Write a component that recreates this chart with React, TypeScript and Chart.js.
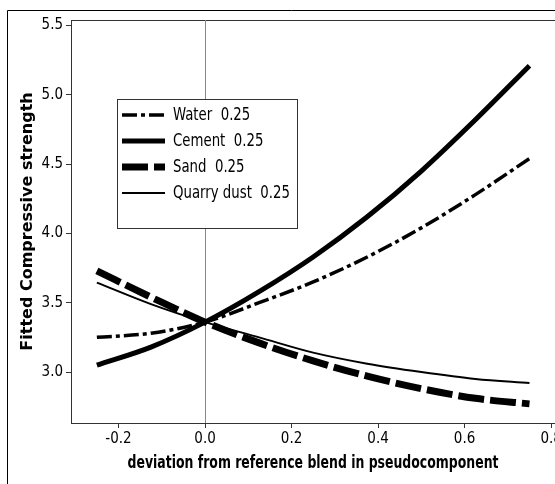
import React, { useEffect, useRef } from "react";
import { Chart, registerables } from "chart.js";

Chart.register(...registerables);

const xValues = [-0.25, -0.125, 0, 0.125, 0.25, 0.375, 0.5, 0.625, 0.75];
const water = [3.25, 3.28, 3.36, 3.5, 3.65, 3.83, 4.04, 4.28, 4.54];
const cement = [3.05, 3.18, 3.36, 3.58, 3.83, 4.12, 4.45, 4.82, 5.21];
const sand = [3.73, 3.54, 3.36, 3.21, 3.08, 2.97, 2.88, 2.81, 2.77];
const quarryDust = [3.645, 3.49, 3.36, 3.25, 3.14, 3.06, 3.0, 2.95, 2.92];
const seriesLabels = ["Water  0.25", "Cement  0.25", "Sand  0.25", "Quarry dust  0.25"];
const xTicks = [-0.2, 0, 0.2, 0.4, 0.6, 0.8];
const yTicks = [3.0, 3.5, 4.0, 4.5, 5.0, 5.5];
const xTitle = "deviation from reference blend in pseudocomponent";
const yTitle = "Fitted Compressive strength";

const NARROW = "'Liberation Sans Narrow', 'DejaVu Sans Condensed', sans-serif";
const WIDE = "'DejaVu Sans', Verdana, sans-serif";

function pts(ys: number[]) {
  return ys.map((y, i) => ({ x: xValues[i], y }));
}

function squeezedText(ctx: any, text: string, x: number, y: number, sx: number, align: string) {
  ctx.save();
  ctx.translate(x, y);
  ctx.scale(sx, 1);
  ctx.textAlign = align;
  ctx.fillText(text, 0, 0);
  ctx.restore();
}

export default function App() {
  const ref = useRef<HTMLCanvasElement>(null);

  useEffect(() => {
    const canvas = ref.current!;

    const framePlugin = {
      id: "frame",
      beforeDraw(chart: any) {
        const ctx = chart.ctx;
        const a = chart.chartArea;
        ctx.save();
        ctx.fillStyle = "#fff";
        ctx.fillRect(0, 0, chart.width, chart.height);
        ctx.strokeStyle = "#000";
        ctx.lineWidth = 1;
        ctx.beginPath();
        ctx.moveTo(7.5, chart.height);
        ctx.lineTo(7.5, 10.5);
        ctx.lineTo(chart.width, 10.5);
        ctx.stroke();
        ctx.strokeStyle = "#333";
        ctx.beginPath();
        ctx.moveTo(a.left, a.top + 0.5);
        ctx.lineTo(chart.width, a.top + 0.5);
        ctx.stroke();
        ctx.restore();
      },
      afterDraw(chart: any) {
        const ctx = chart.ctx;
        const a = chart.chartArea;
        ctx.save();
        ctx.fillStyle = "#000";
        ctx.font = `bold 18px ${NARROW}`;
        ctx.textBaseline = "middle";
        squeezedText(ctx, xTitle, (a.left + a.right) / 2, 463, 0.77, "center");
        ctx.restore();
      },
    };

    const legendPlugin = {
      id: "customLegend",
      afterDraw(chart: any) {
        const ctx = chart.ctx;
        const bx = 117.5, by = 99.5, bw = 180, bh = 129;
        ctx.save();
        ctx.fillStyle = "#fff";
        ctx.fillRect(bx, by, bw, bh);
        ctx.strokeStyle = "#333";
        ctx.lineWidth = 1;
        ctx.setLineDash([]);
        ctx.strokeRect(bx, by, bw, bh);
        chart.data.datasets.forEach((ds: any, i: number) => {
          const y = 115 + i * 26;
          ctx.strokeStyle = ds.borderColor;
          ctx.lineWidth = ds.borderWidth;
          ctx.lineCap = "butt";
          ctx.setLineDash(ds.borderDash || []);
          ctx.beginPath();
          ctx.moveTo(122, y);
          ctx.lineTo(165, y);
          ctx.stroke();
          ctx.setLineDash([]);
          ctx.fillStyle = "#000";
          ctx.font = `17px ${NARROW}`;
          ctx.textBaseline = "middle";
          squeezedText(ctx, ds.label, 173, y + 1, 0.87, "left");
        });
        ctx.restore();
      },
    };

    const chart = new Chart(canvas, {
      type: "line",
      data: {
        datasets: [
          { label: seriesLabels[0], data: pts(water), borderColor: "#000", borderWidth: 3.5, borderDash: [15, 4, 4, 4] },
          { label: seriesLabels[1], data: pts(cement), borderColor: "#000", borderWidth: 5 },
          { label: seriesLabels[2], data: pts(sand), borderColor: "#000", borderWidth: 7, borderDash: [26, 6] },
          { label: seriesLabels[3], data: pts(quarryDust), borderColor: "#000", borderWidth: 2 },
        ] as any,
      },
      options: {
        animation: false,
        responsive: false,
        parsing: false as any,
        layout: { padding: { left: 0, top: 20, right: 20, bottom: 0 } },
        elements: {
          point: { radius: 0 },
          line: { cubicInterpolationMode: "monotone", borderCapStyle: "butt", fill: false },
        },
        plugins: { legend: { display: false }, tooltip: { enabled: false } },
        scales: {
          x: {
            type: "linear",
            min: -0.3098,
            max: 0.809,
            afterBuildTicks: (s: any) => {
              s.ticks = xTicks.map((v) => ({ value: v }));
            },
            afterFit: (s: any) => {
              s.height = 61;
            },
            ticks: {
              callback: (v: any) => Number(v).toFixed(1),
              color: "#000",
              font: { family: NARROW, size: 15 },
              padding: 2,
              maxRotation: 0,
              autoSkip: false,
            },
            grid: {
              color: (c: any) => (c.tick && c.tick.value === 0 ? "#888" : "rgba(0,0,0,0)"),
              tickColor: "#333",
              tickLength: 5,
              drawOnChartArea: true,
            },
            border: { display: true, color: "#333", width: 1 },
            title: { display: false, text: xTitle },
          },
          y: {
            type: "linear",
            min: 2.632,
            max: 5.54,
            afterBuildTicks: (s: any) => {
              s.ticks = yTicks.map((v) => ({ value: v }));
            },
            afterFit: (s: any) => {
              s.width = 71;
            },
            ticks: {
              callback: (v: any) => Number(v).toFixed(1),
              color: "#000",
              font: { family: NARROW, size: 15 },
              padding: 3,
            },
            grid: {
              color: "rgba(0,0,0,0)",
              tickColor: "#333",
              tickLength: 5,
              drawOnChartArea: false,
            },
            border: { display: true, color: "#333", width: 1 },
            title: {
              display: true,
              text: yTitle,
              color: "#000",
              font: { family: WIDE, size: 16, weight: "bold" },
              padding: { top: 18, bottom: 0 },
            },
          },
        },
      },
      plugins: [framePlugin, legendPlugin],
    } as any);

    return () => chart.destroy();
  }, []);

  return (
    <div
      style={{
        position: "fixed",
        left: 0,
        top: 0,
        width: 555,
        height: 484,
        overflow: "hidden",
        background: "#fff",
      }}
    >
      <canvas ref={ref} width={575} height={484} style={{ display: "block" }} />
    </div>
  );
}
